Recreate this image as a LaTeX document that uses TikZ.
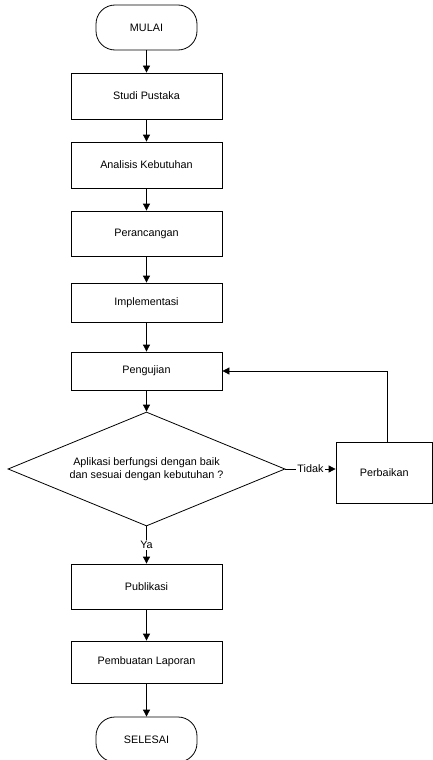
\documentclass[tikz,border=0pt]{standalone}
\usepackage{fontspec}
\setmainfont{Liberation Sans}
\usetikzlibrary{shapes.geometric,arrows.meta}
\begin{document}
\begin{tikzpicture}[x=1pt,y=-1pt,
  every node/.style={font=\fontsize{10.8pt}{13pt}\selectfont},
  procbox/.style={draw, line width=0.8pt, minimum width=151pt, inner sep=0pt},
  termbox/.style={draw, line width=0.8pt, rounded corners=19pt, minimum width=101pt, minimum height=45pt, inner sep=0pt},
  decbox/.style={draw, line width=0.8pt, shape=diamond, shape aspect=2.43, minimum width=277pt, minimum height=114pt, inner sep=0pt, align=center},
  flow/.style={draw, line width=0.8pt, -{Triangle[width=7pt,length=7pt]}},
  lbl/.style={fill=white, inner sep=1pt}
]
\useasboundingbox (0,0) rectangle (433,760);
\node[termbox] (mulai) at (146.5,27.5) {MULAI};
\node[procbox, minimum height=46pt] (studi) at (146.5,96) {Studi Pustaka};
\node[procbox, minimum height=46pt] (anal) at (146.5,165) {Analisis Kebutuhan};
\node[procbox, minimum height=45pt] (peran) at (146.5,233.5) {Perancangan};
\node[procbox, minimum height=39pt] (impl) at (146.5,302.5) {Implementasi};
\node[procbox, minimum height=38pt] (uji) at (146.5,371) {Pengujian};
\node[decbox] (dec) at (146.5,469) {Aplikasi berfungsi dengan baik\\dan sesuai dengan kebutuhan ?};
\node[draw, line width=0.8pt, minimum width=96.5pt, minimum height=61pt, inner sep=0pt] (perb) at (384.25,472.5) {Perbaikan};
\node[procbox, minimum height=45pt] (publ) at (146.5,586.5) {Publikasi};
\node[procbox, minimum height=42pt] (lap) at (146.5,662) {Pembuatan Laporan};
\node[termbox] (sel) at (146.5,739.5) {SELESAI};
\coordinate (fbtop) at (387,371);
\draw[flow] (mulai) -- (studi);
\draw[flow] (studi) -- (anal);
\draw[flow] (anal) -- (peran);
\draw[flow] (peran) -- (impl);
\draw[flow] (impl) -- (uji);
\draw[flow] (uji) -- (dec);
\draw[flow] (dec.east) -- node[lbl] {Tidak} (dec.east -| perb.west);
\draw[flow] (perb.north -| fbtop) -- (fbtop) -- (uji.east);
\draw[flow] (dec.south) -- node[lbl] {Ya} (publ.north);
\draw[flow] (publ) -- (lap);
\draw[flow] (lap) -- (sel);
\end{tikzpicture}
\end{document}
